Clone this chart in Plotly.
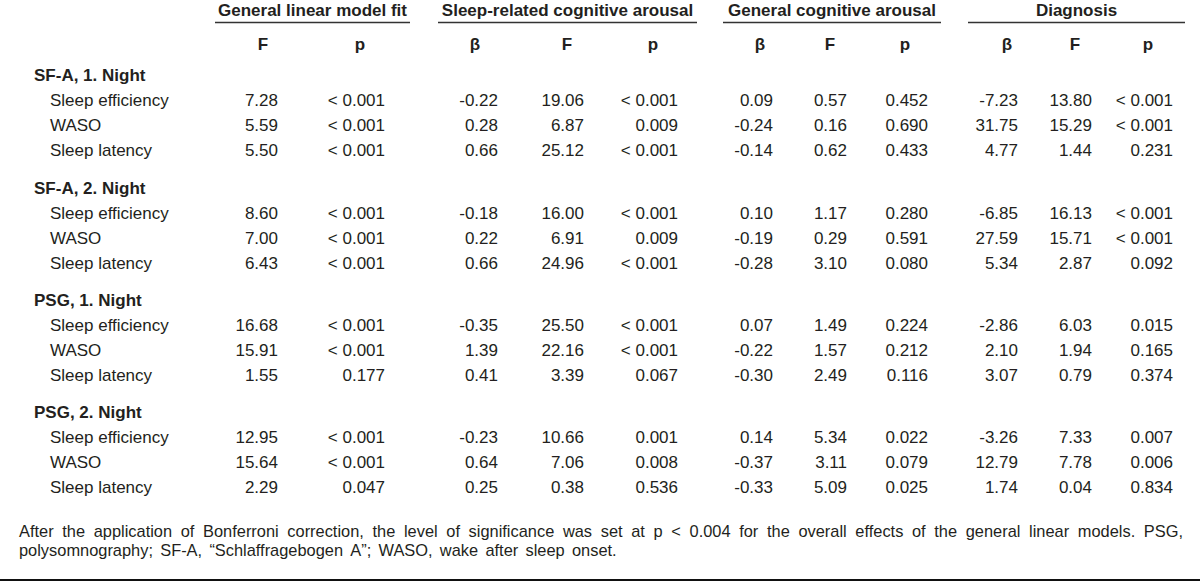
import plotly.graph_objects as go

# ---------------- data ----------------
groups = ["SF-A, 1. Night", "SF-A, 2. Night", "PSG, 1. Night", "PSG, 2. Night"]
measures = ["Sleep efficiency", "WASO", "Sleep latency"]

glm_F = [7.28, 5.59, 5.50, 8.60, 7.00, 6.43, 16.68, 15.91, 1.55, 12.95, 15.64, 2.29]
glm_p = ["< 0.001", "< 0.001", "< 0.001", "< 0.001", "< 0.001", "< 0.001",
         "< 0.001", "< 0.001", "0.177", "< 0.001", "< 0.001", "0.047"]

src_beta = [-0.22, 0.28, 0.66, -0.18, 0.22, 0.66, -0.35, 1.39, 0.41, -0.23, 0.64, 0.25]
src_F = [19.06, 6.87, 25.12, 16.00, 6.91, 24.96, 25.50, 22.16, 3.39, 10.66, 7.06, 0.38]
src_p = ["< 0.001", "0.009", "< 0.001", "< 0.001", "0.009", "< 0.001",
         "< 0.001", "< 0.001", "0.067", "0.001", "0.008", "0.536"]

gca_beta = [0.09, -0.24, -0.14, 0.10, -0.19, -0.28, 0.07, -0.22, -0.30, 0.14, -0.37, -0.33]
gca_F = [0.57, 0.16, 0.62, 1.17, 0.29, 3.10, 1.49, 1.57, 2.49, 5.34, 3.11, 5.09]
gca_p = ["0.452", "0.690", "0.433", "0.280", "0.591", "0.080",
         "0.224", "0.212", "0.116", "0.022", "0.079", "0.025"]

dia_beta = [-7.23, 31.75, 4.77, -6.85, 27.59, 5.34, -2.86, 2.10, 3.07, -3.26, 12.79, 1.74]
dia_F = [13.80, 15.29, 1.44, 16.13, 15.71, 2.87, 6.03, 1.94, 0.79, 7.33, 7.78, 0.04]
dia_p = ["< 0.001", "< 0.001", "0.231", "< 0.001", "< 0.001", "0.092",
         "0.015", "0.165", "0.374", "0.007", "0.006", "0.834"]

group_headers = ["General linear model fit", "Sleep-related cognitive arousal",
                 "General cognitive arousal", "Diagnosis"]
sub_headers = ["F", "p", "β", "F", "p", "β", "F", "p", "β", "F", "p"]

footnote_lines = [
    "After the application of Bonferroni correction, the level of significance was set at p < 0.004 "
    "for the overall effects of the general linear models. PSG,",
    "polysomnography; SF-A, \u201cSchlaffragebogen A\u201d; WASO, wake after sleep onset.",
]

# ---------------- layout constants ----------------
W, H = 1200, 583
FONT = "Liberation Sans, Arial, sans-serif"
TXT = "#231f20"
FS = 17

col_right = [278, 385, 498, 584, 678, 773, 847, 928, 1018, 1092, 1173]   # right edges of data columns
col_center = [263, 360, 475, 567, 653, 760, 830, 905, 1007, 1075, 1148]  # header centres
grp_span = [(215, 410), (438, 697), (723, 941), (968, 1185)]
y_grp_hdr, y_line, y_sub = 12, 22.5, 45.5
y_first_group = 77
row_step, group_gap = 25, 37.3

columns = [
    (glm_F, "f2"), (glm_p, "s"),
    (src_beta, "f2"), (src_F, "f2"), (src_p, "s"),
    (gca_beta, "f2"), (gca_F, "f2"), (gca_p, "s"),
    (dia_beta, "f2"), (dia_F, "f2"), (dia_p, "s"),
]

def fmt(v, kind):
    return v if kind == "s" else f"{v:.2f}"

# row positions
group_y, row_y = [], []
y = y_first_group
for g in range(len(groups)):
    group_y.append(y)
    for m in range(len(measures)):
        y += row_step
        row_y.append(y)
    y += group_gap

fig = go.Figure()
tf = dict(family=FONT, size=FS, color=TXT)

# group labels
fig.add_trace(go.Scatter(x=[34] * len(groups), y=group_y, text=[f"<b>{g}</b>" for g in groups],
                         mode="text", textposition="middle right", textfont=tf, hoverinfo="skip"))
# row labels
fig.add_trace(go.Scatter(x=[50] * len(row_y), y=row_y,
                         text=[measures[i % len(measures)] for i in range(len(row_y))],
                         mode="text", textposition="middle right", textfont=tf, hoverinfo="skip"))
# data columns
for (vals, kind), xr in zip(columns, col_right):
    fig.add_trace(go.Scatter(x=[xr] * len(vals), y=row_y, text=[fmt(v, kind) for v in vals],
                             mode="text", textposition="middle left", textfont=tf, hoverinfo="skip"))
# sub headers
fig.add_trace(go.Scatter(x=col_center, y=[y_sub] * len(sub_headers),
                         text=[f"<b>{s}</b>" for s in sub_headers],
                         mode="text", textposition="middle center", textfont=tf, hoverinfo="skip"))
# group headers
fig.add_trace(go.Scatter(x=[(a + b) / 2 for a, b in grp_span], y=[y_grp_hdr] * len(group_headers),
                         text=[f"<b>{s}</b>" for s in group_headers],
                         mode="text", textposition="middle center", textfont=tf, hoverinfo="skip"))

for a, b in grp_span:
    fig.add_shape(type="line", x0=a, x1=b, y0=y_line, y1=y_line, xref="x", yref="y",
                  line=dict(color="#333333", width=1.3))
fig.add_shape(type="line", x0=0, x1=W, y0=580, y1=580, xref="x", yref="y",
              line=dict(color="#111111", width=2))

# footnote (first line justified: extra space after each word gap)
fn_y = [531, 550]
fn_text = [footnote_lines[0].replace(" ", " \u2005"), footnote_lines[1].replace(" ", " \u2006")]
for t, yy in zip(fn_text, fn_y):
    fig.add_annotation(x=18, y=yy, xref="x", yref="y", text=t, showarrow=False,
                       xanchor="left", yanchor="middle", align="left", borderpad=0,
                       font=dict(family=FONT, size=16.4, color=TXT))

fig.update_layout(
    width=W, height=H, margin=dict(l=0, r=0, t=0, b=0),
    paper_bgcolor="white", plot_bgcolor="white", showlegend=False,
    xaxis=dict(range=[0, W], visible=False, fixedrange=True),
    yaxis=dict(range=[H, 0], visible=False, fixedrange=True),
)

fig.write_html("out.html", config={"displayModeBar": False},
               post_script="document.body.style.margin='0px';document.body.style.overflow='hidden';")
